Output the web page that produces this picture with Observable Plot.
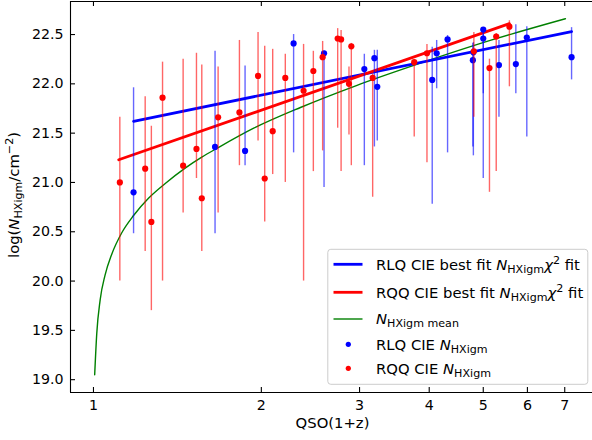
<!DOCTYPE html>
<html><head><meta charset="utf-8">
<script src="https://cdn.jsdelivr.net/npm/d3@7"></script>
<script src="https://cdn.jsdelivr.net/npm/@observablehq/plot@0.6"></script>
<style>
html,body{margin:0;padding:0;background:#fff;}
svg text{white-space:pre;}
</style></head>
<body><div id="chart"></div>
<script>
// ---- data ----
const xTicks = [1, 2, 3, 4, 5, 6, 7];
const yTicks = [19.0, 19.5, 20.0, 20.5, 21.0, 21.5, 22.0, 22.5];

const rlqX  = [1.18, 1.652, 1.87, 2.285, 2.591, 3.06, 3.19, 3.228, 4.05, 4.125, 4.315, 4.79, 4.80, 5.0, 5.0, 5.335, 5.72, 5.985, 7.2];
const rlqY  = [20.90, 21.36, 21.32, 22.41, 22.31, 22.15, 22.26, 21.97, 22.04, 22.31, 22.45, 22.24, 22.32, 22.55, 22.46, 22.19, 22.20, 22.47, 22.27];
const rlqLo = [20.48, 20.48, 21.17, 21.30, 20.95, 21.17, 21.36, 21.42, 20.78, 21.95, 21.30, 21.36, 21.27, 21.04, 21.90, 21.66, 21.90, 21.46, 22.04];
const rlqHi = [21.96, 22.33, 22.18, 22.50, 22.33, 22.30, 22.34, 22.34, 22.37, 22.44, 22.49, 22.41, 22.42, 22.57, 22.50, 22.44, 22.60, 22.58, 22.57];

const rqqX  = [1.115, 1.238, 1.27, 1.33, 1.448, 1.53, 1.564, 1.673, 1.827, 1.973, 2.028, 2.096, 2.208, 2.381, 2.479, 2.576, 2.741, 2.78, 2.872, 2.90, 3.167, 3.76, 3.963, 4.81, 5.13, 5.275, 5.57];
const rqqY  = [21.00, 21.14, 20.60, 21.86, 21.17, 21.34, 20.84, 21.66, 21.71, 22.08, 21.04, 21.52, 22.06, 21.93, 22.13, 22.27, 22.46, 22.45, 22.00, 22.38, 22.06, 22.22, 22.31, 22.33, 22.16, 22.48, 22.58];
const rqqLo = [20.00, 20.30, 19.70, 20.00, 20.69, 21.04, 20.30, 20.69, 21.17, 21.42, 20.60, 21.08, 21.00, 20.00, 21.11, 21.32, 21.55, 21.11, 21.48, 21.17, 20.85, 21.46, 21.20, 21.66, 20.90, 21.11, 21.97];
const rqqHi = [21.66, 21.87, 21.57, 22.22, 22.25, 22.31, 22.19, 22.17, 22.44, 22.52, 22.38, 22.35, 22.30, 22.40, 22.33, 22.43, 22.56, 22.54, 22.17, 22.41, 22.10, 22.22, 22.40, 22.52, 22.25, 22.51, 22.64];

const rlqFitX = [1.18, 7.2];
const rlqFitY = [21.62, 22.53];
const rqqFitX = [1.11, 5.57];
const rqqFitY = [21.23, 22.61];

const meanX = [1.005, 1.0137, 1.028, 1.049, 1.078, 1.124, 1.18, 1.255, 1.345, 1.46, 1.564, 1.67, 1.938, 2.35, 2.969, 3.908, 5.146, 7.02];
const meanY = [19.05, 19.47, 19.81, 20.06, 20.27, 20.49, 20.665, 20.84, 20.99, 21.146, 21.257, 21.35, 21.55, 21.76, 21.985, 22.22, 22.44, 22.66];

// ---- tables built from arrays ----
const rlq = rlqX.map((x, i) => ({x, y: rlqY[i], lo: rlqLo[i], hi: rlqHi[i]}));
const rqq = rqqX.map((x, i) => ({x, y: rqqY[i], lo: rqqLo[i], hi: rqqHi[i]}));
const rlqFit = rlqFitX.map((x, i) => ({x, y: rlqFitY[i]}));
const rqqFit = rqqFitX.map((x, i) => ({x, y: rqqFitY[i]}));
const meanCurve = meanX.map((x, i) => ({x, y: meanY[i]}));

const X0 = 0.9095, X1 = 7.85, Y0 = 18.87, Y1 = 22.835;
const FONT = "DejaVu Sans";
const FS_TICK = 14.2;
const FS = 14.8;
const SUB = 0.75;

const chart = Plot.plot({
  width: 592, height: 440,
  marginLeft: 70, marginRight: 0, marginTop: 1, marginBottom: 48,
  style: {fontFamily: FONT, fontSize: FS_TICK + "px", color: "#000", background: "#fff", overflow: "visible"},
  x: {type: "log", domain: [X0, X1], label: null},
  y: {domain: [Y0, Y1], label: null},
  marks: [
    Plot.line(meanCurve, {x: "x", y: "y", stroke: "green", strokeWidth: 1.4, curve: "monotone-x"}),
    Plot.line(rlqFit, {x: "x", y: "y", stroke: "blue", strokeWidth: 2.8}),
    Plot.line(rqqFit, {x: "x", y: "y", stroke: "red", strokeWidth: 2.8}),
    Plot.ruleX(rlq, {x: "x", y1: "lo", y2: "hi", stroke: "blue", strokeOpacity: 0.6, strokeWidth: 1.4}),
    Plot.dot(rlq, {x: "x", y: "y", r: 3.1, fill: "blue", stroke: "none"}),
    Plot.ruleX(rqq, {x: "x", y1: "lo", y2: "hi", stroke: "red", strokeOpacity: 0.6, strokeWidth: 1.4}),
    Plot.dot(rqq, {x: "x", y: "y", r: 3.1, fill: "red", stroke: "none"}),
    // spines (no right spine: cropped in reference)
    Plot.ruleX([X0], {stroke: "#000", strokeWidth: 1.1}),
    Plot.ruleY([Y0, Y1], {stroke: "#000", strokeWidth: 1.1}),
    // inward ticks
    Plot.tickX(xTicks, {x: d => d, insetTop: 386, stroke: "#000", strokeWidth: 1.1}),
    Plot.tickX(xTicks, {x: d => d, insetBottom: 386, stroke: "#000", strokeWidth: 1.1}),
    Plot.tickY(yTicks, {y: d => d, insetRight: 517, stroke: "#000", strokeWidth: 1.1}),
    Plot.axisX(xTicks, {tickSize: 0, tickPadding: 7.5, tickFormat: d => String(d), label: null, fill: "#000"}),
    Plot.axisY(yTicks, {tickSize: 0, tickPadding: 7, tickFormat: d => d.toFixed(1), label: null, fill: "#000"})
  ]
});
document.getElementById("chart").appendChild(chart);

// ---- rich text (subscripts / italics) ----
const svg = d3.select(chart);
function richText(parent, segs, attrs) {
  const t = parent.append("text").attr("font-family", FONT).attr("font-size", FS).attr("fill", "#000")
    .attr("stroke", "none").attr("text-anchor", "start");
  for (const k in attrs) t.attr(k, attrs[k]);
  let shift = 0;
  for (const s of segs) {
    const target = s.sub ? 3.2 : s.sup ? -5.6 : 0;
    const ts = t.append("tspan").text(s.t);
    if (target !== shift) { ts.attr("dy", target - shift); shift = target; }
    if (s.sub || s.sup) ts.attr("font-size", FS * SUB);
    if (s.i) ts.attr("font-style", "italic");
  }
  return t;
}

// axis titles
richText(svg, [{t: "QSO(1+z)"}], {x: 332.5, y: 428, "text-anchor": "middle"});
richText(svg, [{t: "log("}, {t: "N", i: true}, {t: "HXigm", sub: true}, {t: "/cm"}, {t: "\u22122", sup: true}, {t: ")"}],
  {transform: "translate(19,195) rotate(-90)", "text-anchor": "middle"});

// legend
const lg = svg.append("g");
lg.append("rect").attr("x", 327.8).attr("y", 249.3).attr("width", 260).attr("height", 135)
  .attr("rx", 3).attr("ry", 3).style("fill", "#ffffff").style("fill-opacity", 0.8)
  .style("stroke", "#cccccc").style("stroke-width", "1px");
const rows = [
  {type: "line", color: "blue", w: 2.8, cy: 264.3, base: 270, segs: [{t: "RLQ CIE best fit "}, {t: "N", i: true}, {t: "HXigm", sub: true}, {t: "\u03c7", i: true}, {t: "2", sup: true}, {t: " fit"}]},
  {type: "line", color: "red", w: 2.8, cy: 292.3, base: 297.5, segs: [{t: "RQQ CIE best fit "}, {t: "N", i: true}, {t: "HXigm", sub: true}, {t: "\u03c7", i: true}, {t: "2", sup: true}, {t: " fit"}]},
  {type: "line", color: "green", w: 1.4, cy: 319, base: 323.5, segs: [{t: "N", i: true}, {t: "HXigm mean", sub: true}]},
  {type: "dot", color: "blue", cy: 344.3, base: 349.8, segs: [{t: "RLQ CIE "}, {t: "N", i: true}, {t: "HXigm", sub: true}]},
  {type: "dot", color: "red", cy: 368.3, base: 373.8, segs: [{t: "RQQ CIE "}, {t: "N", i: true}, {t: "HXigm", sub: true}]}
];
for (const r of rows) {
  if (r.type === "line") {
    lg.append("line").attr("x1", 333.5).attr("x2", 362.5).attr("y1", r.cy).attr("y2", r.cy)
      .attr("stroke", r.color).attr("stroke-width", r.w);
  } else {
    lg.append("circle").attr("cx", 348.3).attr("cy", r.cy).attr("r", 2.6).attr("fill", r.color);
  }
  richText(lg, r.segs, {x: 376, y: r.base});
}
</script>
</body></html>
